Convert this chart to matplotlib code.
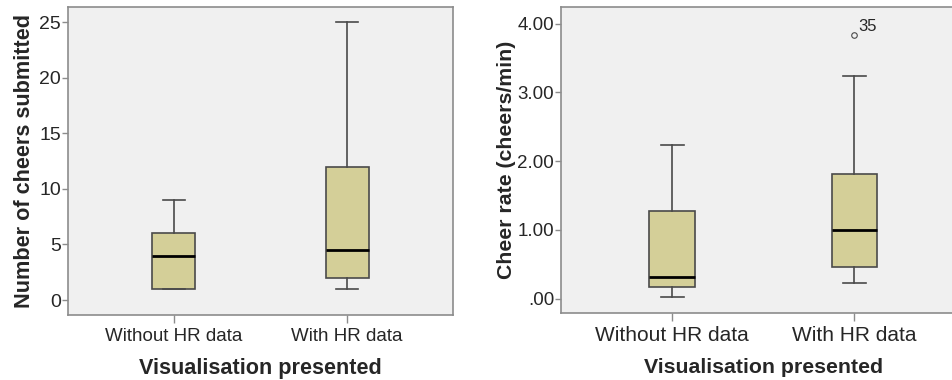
import matplotlib.pyplot as plt

plt.rcParams['font.family'] = ['Liberation Sans', 'DejaVu Sans']

groups = ['Without HR data', 'With HR data']

# cheers submitted: whislo, q1, median, q3, whishi
cheers_lo = [1, 1]
cheers_q1 = [1, 2]
cheers_med = [4, 4.5]
cheers_q3 = [6, 12]
cheers_hi = [9, 25]

# cheer rate (cheers/min)
rate_lo = [0.03, 0.23]
rate_q1 = [0.17, 0.46]
rate_med = [0.31, 1.00]
rate_q3 = [1.28, 1.81]
rate_hi = [2.24, 3.24]
rate_fliers = [[], [3.83]]
flier_ids = [None, '35']

box_fill = '#d4cf98'
edge = '#4a4a4a'
spine_col = '#8c8c8c'
txt = '#262626'


def make_stats(lo, q1, med, q3, hi, fliers=None):
    stats = []
    for i in range(len(lo)):
        stats.append(dict(whislo=lo[i], q1=q1[i], med=med[i], q3=q3[i], whishi=hi[i],
                          fliers=fliers[i] if fliers else []))
    return stats


def draw(ax, stats, ylim, yticks, yticklabels, ylabel, xfs, yfs, lfs, ypad):
    ax.set_facecolor('#f0f0f0')
    ax.bxp(stats, positions=[1, 2], widths=0.25, patch_artist=True,
           boxprops=dict(facecolor=box_fill, edgecolor=edge, linewidth=1.2),
           medianprops=dict(color='black', linewidth=2),
           whiskerprops=dict(color=edge, linewidth=1.2),
           capprops=dict(color=edge, linewidth=1.2),
           capwidths=0.125,
           flierprops=dict(marker='o', markersize=4, markerfacecolor='none',
                           markeredgecolor=edge, markeredgewidth=0.8))
    ax.set_xlim(0.39, 2.61)
    ax.set_ylim(*ylim)
    ax.set_yticks(yticks)
    ax.set_yticklabels(yticklabels)
    ax.set_xticks([1, 2])
    ax.set_xticklabels(groups)
    ax.tick_params(axis='x', labelsize=xfs, labelcolor=txt, color=spine_col, length=6, width=1)
    ax.tick_params(axis='y', labelsize=yfs, labelcolor=txt, color=spine_col, length=4, width=1, pad=1)
    for s in ax.spines.values():
        s.set_color(spine_col)
        s.set_linewidth(1.2)
    ax.set_xlabel('Visualisation presented', fontsize=lfs, fontweight='bold', color=txt, labelpad=9)
    ax.set_ylabel(ylabel, fontsize=lfs, fontweight='bold', color=txt, labelpad=ypad)


fig = plt.figure(figsize=(9.53, 3.8), dpi=100)

ax1 = fig.add_axes([0.0714, 0.171, 0.4039, 0.8106])
draw(ax1, make_stats(cheers_lo, cheers_q1, cheers_med, cheers_q3, cheers_hi),
     (-1.35, 26.35), [0, 5, 10, 15, 20, 25], ['0', '5', '10', '15', '20', '25'],
     'Number of cheers submitted', 13.5, 14, 15.6, 3)

ax2 = fig.add_axes([0.5887, 0.176, 0.4245, 0.8056])
draw(ax2, make_stats(rate_lo, rate_q1, rate_med, rate_q3, rate_hi, rate_fliers),
     (-0.21, 4.24), [0, 1, 2, 3, 4], ['.00', '1.00', '2.00', '3.00', '4.00'],
     'Cheer rate (cheers/min)', 15, 13.5, 15.3, 1)
for i, lab in enumerate(flier_ids):
    if lab:
        ax2.annotate(lab, (i + 1, rate_fliers[i][0]), xytext=(3, 3),
                     textcoords='offset points', fontsize=12, color=txt)

fig.savefig('out.png', dpi=100)
